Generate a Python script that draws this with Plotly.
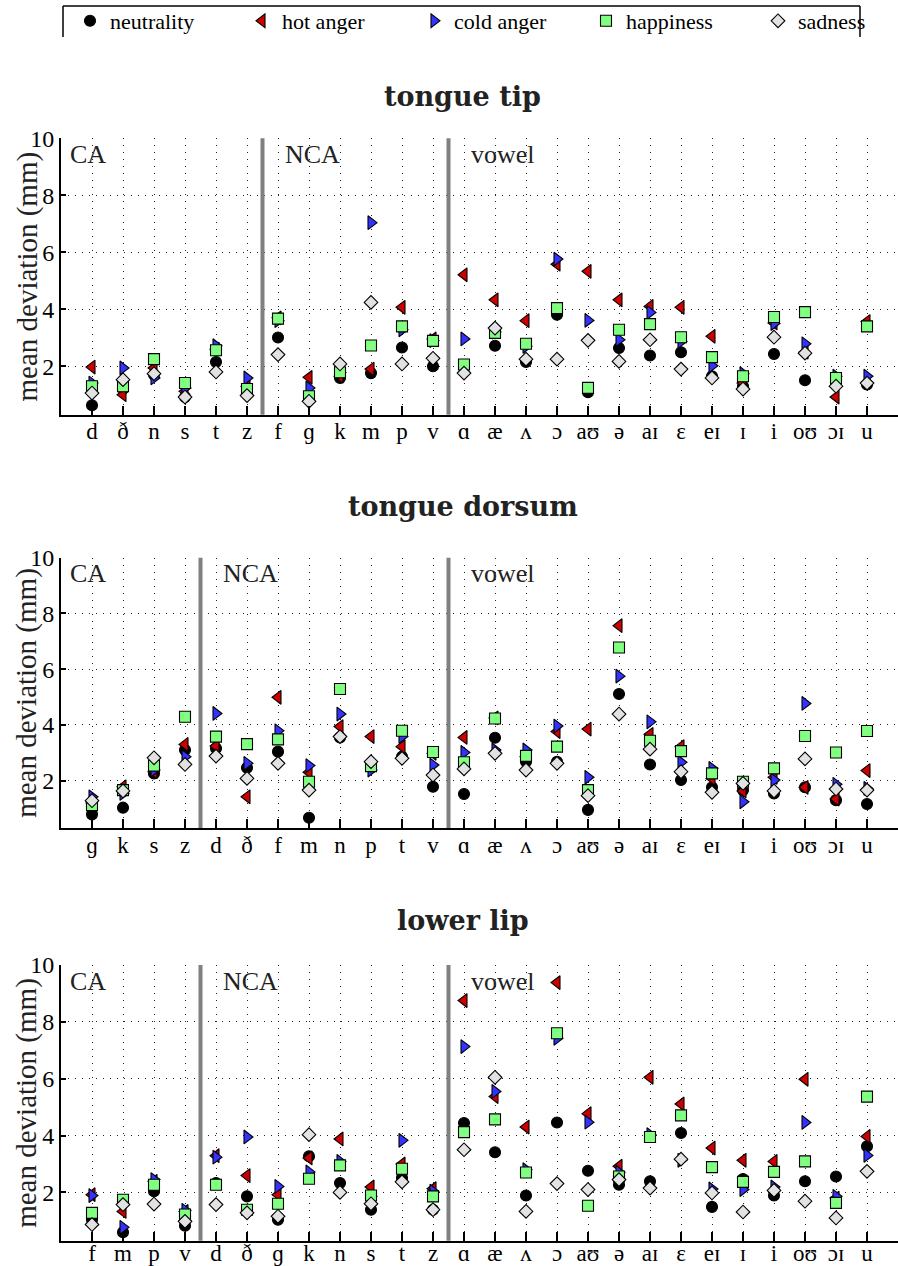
import plotly.graph_objects as go

# ---- categories (phonemes) per articulator ----
tip_labels = ["d", "ð", "n", "s", "t", "z", "f", "ɡ", "k", "m", "p", "v",
              "ɑ", "æ", "ʌ", "ɔ", "aʊ", "ə", "aɪ", "ɛ", "eɪ", "ɪ", "i", "oʊ", "ɔɪ", "u"]
dorsum_labels = ["ɡ", "k", "s", "z", "d", "ð", "f", "m", "n", "p", "t", "v",
                 "ɑ", "æ", "ʌ", "ɔ", "aʊ", "ə", "aɪ", "ɛ", "eɪ", "ɪ", "i", "oʊ", "ɔɪ", "u"]
lip_labels = ["f", "m", "p", "v", "d", "ð", "ɡ", "k", "n", "s", "t", "z",
              "ɑ", "æ", "ʌ", "ɔ", "aʊ", "ə", "aɪ", "ɛ", "eɪ", "ɪ", "i", "oʊ", "ɔɪ", "u"]

# ---- mean deviation (mm): tongue tip ----
tip_neutrality = [0.63, 1.2, 1.7, 0.92, 2.15, 1.18, 3.01, 0.9, 1.59, 1.76, 2.66, 2.0,
                  2.0, 2.72, 2.15, 3.81, 1.09, 2.64, 2.38, 2.49, 1.65, 1.30, 2.43, 1.51, 1.41, 1.36]
tip_hot = [1.97, 1.0, 1.94, 1.12, 2.6, 1.3, 3.7, 1.61, 1.65, 1.9, 4.07, 2.96,
           5.21, 4.33, 3.6, 5.58, 5.33, 4.33, 4.1, 4.07, 3.05, 1.41, 3.52, 2.5, 0.92, 3.57]
tip_cold = [1.41, 1.94, 1.59, 1.24, 2.72, 1.59, 3.6, 1.24, 1.78, 7.04, 3.28, 2.9,
            2.96, 3.2, 2.7, 5.76, 3.61, 2.93, 3.89, 2.87, 2.02, 1.74, 3.5, 2.79, 1.65, 1.65]
tip_happy = [1.30, 1.3, 2.25, 1.41, 2.56, 1.2, 3.67, 0.95, 1.79, 2.73, 3.4, 2.89,
             2.06, 3.17, 2.79, 4.04, 1.24, 3.28, 3.48, 3.02, 2.32, 1.65, 3.73, 3.9, 1.59, 3.4]
tip_sad = [1.06, 1.53, 1.74, 0.92, 1.80, 0.97, 2.41, 0.77, 2.08, 4.24, 2.08, 2.28,
           1.76, 3.34, 2.25, 2.25, 2.91, 2.17, 2.93, 1.9, 1.59, 1.2, 3.02, 2.46, 1.3, 1.41]

# ---- mean deviation (mm): tongue dorsum ----
dorsum_neutrality = [0.79, 1.03, 2.26, 3.1, 3.16, 2.46, 3.04, 0.67, 3.55, 2.5, 2.86, 1.78,
                     1.52, 3.54, 2.68, 2.68, 0.95, 5.11, 2.58, 2.02, 1.76, 1.66, 1.54, 1.76, 1.3, 1.16]
dorsum_hot = [1.2, 1.78, 2.32, 3.3, 3.24, 1.42, 4.99, 2.3, 3.94, 3.58, 3.22, 2.98,
              3.55, 4.25, 2.86, 3.76, 3.85, 7.56, 3.66, 3.22, 2.08, 1.63, 2.12, 1.76, 1.34, 2.36]
dorsum_cold = [1.42, 1.54, 2.38, 2.86, 4.41, 2.62, 3.79, 2.54, 4.39, 2.38, 3.58, 2.56,
               3.01, 3.1, 3.1, 3.96, 2.12, 5.75, 4.11, 2.66, 2.44, 1.24, 2.02, 4.77, 1.87, 1.72]
dorsum_happy = [1.12, 1.66, 2.54, 4.29, 3.58, 3.31, 3.48, 1.96, 5.29, 2.52, 3.79, 3.03,
                2.66, 4.23, 2.89, 3.22, 1.66, 6.78, 3.43, 3.06, 2.26, 1.96, 2.44, 3.6, 3.01, 3.78]
dorsum_sad = [1.28, 1.63, 2.82, 2.58, 2.88, 2.08, 2.62, 1.66, 3.58, 2.68, 2.8, 2.2,
              2.42, 2.98, 2.38, 2.62, 1.46, 4.39, 3.13, 2.32, 1.58, 1.9, 1.63, 2.78, 1.7, 1.66]

# ---- mean deviation (mm): lower lip ----
lip_neutrality = [1.04, 0.6, 2.04, 0.83, 2.33, 1.86, 1.04, 3.27, 2.33, 1.39, 2.51, 1.39,
                  4.44, 3.41, 1.89, 4.46, 2.76, 2.27, 2.39, 4.09, 1.49, 2.47, 1.89, 2.39, 2.56, 3.62]
lip_hot = [1.92, 1.33, 2.39, 1.33, 3.29, 2.59, 1.92, 3.21, 3.88, 2.19, 3.0, 2.13,
           8.75, 5.37, 4.3, 9.38, 4.77, 2.92, 6.05, 5.11, 3.56, 3.13, 3.09, 5.98, 1.8, 3.97]
lip_cold = [1.89, 0.77, 2.45, 1.37, 3.24, 3.95, 2.21, 2.72, 3.09, 1.86, 3.83, 2.04,
            7.13, 5.55, 2.8, 7.42, 4.47, 2.71, 4.03, 3.13, 2.12, 2.1, 2.19, 4.46, 1.86, 3.3]
lip_happy = [1.28, 1.74, 2.27, 1.22, 2.27, 1.39, 1.6, 2.48, 2.95, 1.89, 2.83, 1.86,
             4.12, 4.57, 2.7, 7.6, 1.53, 2.56, 3.95, 4.71, 2.89, 2.37, 2.72, 3.09, 1.63, 5.37]
lip_sad = [0.87, 1.57, 1.59, 0.98, 1.57, 1.28, 1.16, 4.03, 2.0, 1.6, 2.37, 1.39,
           3.5, 6.05, 1.33, 2.31, 2.1, 2.45, 2.15, 3.17, 1.98, 1.31, 2.07, 1.69, 1.1, 2.74]

emotions = ["neutrality", "hot anger", "cold anger", "happiness", "sadness"]
symbols = ["circle", "triangle-left", "triangle-right", "square", "diamond"]
colors = ["#000000", "#cc0000", "#3333ff", "#80ff80", "#e2e2e2"]
sizes = [11, 12, 12, 11, 10.5]

panels = [
    ("tongue tip", tip_labels, [tip_neutrality, tip_hot, tip_cold, tip_happy, tip_sad], [5.5, 11.5]),
    ("tongue dorsum", dorsum_labels, [dorsum_neutrality, dorsum_hot, dorsum_cold, dorsum_happy, dorsum_sad], [3.5, 11.5]),
    ("lower lip", lip_labels, [lip_neutrality, lip_hot, lip_cold, lip_happy, lip_sad], [3.5, 11.5]),
]

W, H = 898, 1266
AXIS_LEFT = 61  # pixel column of the y axes


def px2x(px):
    return px / W


def py2y(py):
    return 1 - py / H


# vertical pixel extents (top, bottom) of each plotting area
extents = [(138.3, 414.7), (557.7, 828.0), (965.0, 1240.7)]
title_py = [96, 507, 920]
label_standoff = [-5, -5, -9]

SERIF = "Liberation Serif, Times New Roman, serif"

fig = go.Figure()
annotations = []
shapes = []

for i, (title, labels, series, seps) in enumerate(panels):
    k = "" if i == 0 else str(i + 1)
    xa, ya = "x" + k, "y" + k
    for j, name in enumerate(emotions):
        fig.add_trace(go.Scatter(
            x=labels, y=series[j], mode="markers", name=name,
            legendgroup=name, showlegend=(i == 0),
            xaxis=xa, yaxis=ya,
            marker=dict(symbol=symbols[j], color=colors[j], size=sizes[j],
                        line=dict(color="#000000", width=1.1)),
            cliponaxis=False,
        ))
    top, bot = extents[i]
    axis_common = dict(showline=True, linecolor="#000000", linewidth=2,
                       showgrid=True, gridcolor="#222222", gridwidth=1,
                       griddash="1px,6px", zeroline=False, ticks="inside",
                       tickcolor="#000000", mirror=False, automargin=False,
                       tickfont=dict(family=SERIF, size=24, color="#000000"))
    fig.update_layout({
        "xaxis" + k: dict(axis_common, domain=[px2x(AXIS_LEFT), 1], anchor=ya,
                          type="category", categoryorder="array", categoryarray=labels,
                          range=[-1, 26], ticklen=9, tickwidth=2,
                          ticklabelstandoff=label_standoff[i],
                          tickfont=dict(family=SERIF, size=23, color="#000000")),
        "yaxis" + k: dict(axis_common, domain=[py2y(bot), py2y(top)], anchor=xa,
                          range=[0.3, 10], tickvals=[2, 4, 6, 8, 10],
                          ticklen=5, tickwidth=1.5),
    })
    for s in seps:
        shapes.append(dict(type="line", xref=xa, yref=ya + " domain", x0=s, x1=s,
                           y0=0, y1=1, line=dict(color="#808080", width=4), layer="above"))
    for txt, xpos in [("CA", -0.78), ("NCA", seps[0] + 0.65), ("vowel", seps[1] + 0.65)]:
        annotations.append(dict(text=txt, xref=xa, yref=ya, x=xpos, y=9.42,
                                xanchor="left", yanchor="middle", showarrow=False,
                                font=dict(family=SERIF, size=26, color="#222222")))
    annotations.append(dict(text=title, xref="paper", yref="paper",
                            x=px2x(463), y=py2y(title_py[i]), xanchor="center",
                            yanchor="middle", showarrow=False,
                            font=dict(family="DejaVu Serif, serif", size=27,
                                      color="#222222", weight="bold")))
    annotations.append(dict(text="mean deviation (mm)", xref="paper", yref="paper",
                            x=px2x(27), y=py2y((top + bot) / 2), textangle=-90,
                            xanchor="center", yanchor="middle", showarrow=False,
                            font=dict(family=SERIF, size=29, color="#222222")))

# legend frame
for (x0, y0, x1, y1) in [(63, 6, 860, 6), (63, 6, 63, 37), (860, 6, 860, 37)]:
    shapes.append(dict(type="line", xref="paper", yref="paper",
                       x0=px2x(x0), y0=py2y(y0), x1=px2x(x1), y1=py2y(y1),
                       line=dict(color="#000000", width=1.5)))

fig.update_layout(
    width=W, height=H,
    margin=dict(l=0, r=0, t=0, b=0, autoexpand=False),
    paper_bgcolor="#ffffff", plot_bgcolor="#ffffff",
    showlegend=True,
    legend=dict(orientation="h", x=px2x(70), y=py2y(21), xanchor="left", yanchor="middle",
                font=dict(family=SERIF, size=22, color="#000000"),
                entrywidth=127, entrywidthmode="pixels",
                bgcolor="rgba(0,0,0,0)", borderwidth=0, itemclick=False),
    annotations=annotations,
    shapes=shapes,
)

fig.write_html("out.html")
